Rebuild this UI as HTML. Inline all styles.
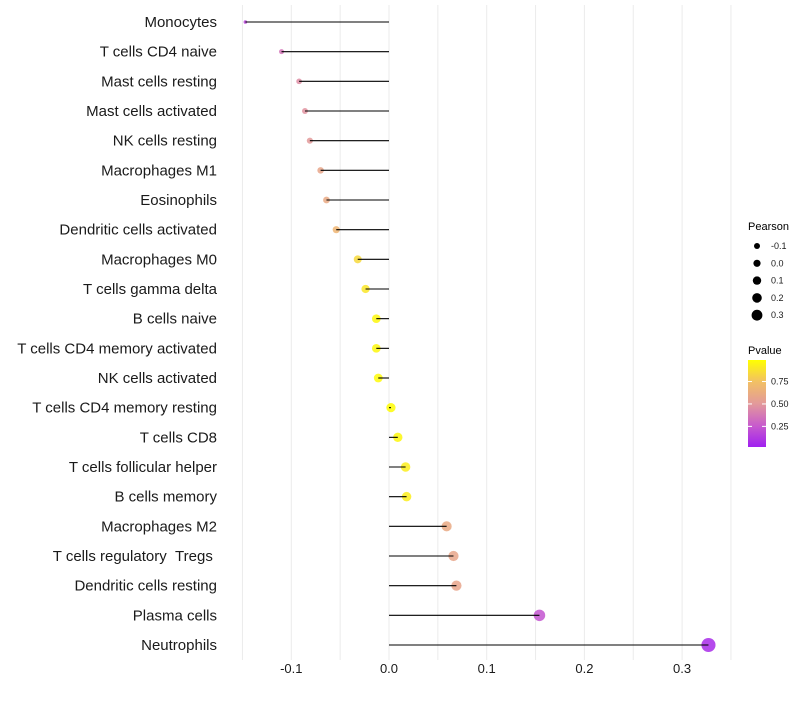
<!DOCTYPE html>
<html><head><meta charset="utf-8"><style>
body{margin:0;background:#fff;font-family:"Liberation Sans",sans-serif;}
svg text{font-family:"Liberation Sans",sans-serif;}
</style></head><body>
<svg id="chart" width="800" height="700"></svg>
<script>
const categories=["Monocytes","T cells CD4 naive","Mast cells resting","Mast cells activated","NK cells resting","Macrophages M1","Eosinophils","Dendritic cells activated","Macrophages M0","T cells gamma delta","B cells naive","T cells CD4 memory activated","NK cells activated","T cells CD4 memory resting","T cells CD8","T cells follicular helper","B cells memory","Macrophages M2","T cells regulatory \u00a0Tregs\u00a0","Dendritic cells resting","Plasma cells","Neutrophils"];
const pearson=[-0.147,-0.110,-0.092,-0.086,-0.081,-0.070,-0.064,-0.054,-0.032,-0.024,-0.013,-0.013,-0.011,0.002,0.009,0.017,0.018,0.059,0.066,0.069,0.154,0.327];
const pvalue=[0.15,0.35,0.45,0.47,0.5,0.58,0.6,0.68,0.85,0.9,0.97,0.97,0.98,0.99,0.97,0.93,0.93,0.6,0.58,0.57,0.22,0.05];
const xTicks=[-0.1,0,0.1,0.2,0.3];
const xTickLabels=["-0.1","0.0","0.1","0.2","0.3"];
const sizeLegend=[-0.1,0,0.1,0.2,0.3];
const colorTicks=[0.25,0.5,0.75];

const NS="http://www.w3.org/2000/svg";
const svg=document.getElementById('chart');
function mk(t,a,p){const e=document.createElementNS(NS,t);for(const k in a)e.setAttribute(k,a[k]);(p||svg).appendChild(e);return e;}
const x=v=>389+v*977;
const y=i=>22+i*(623/21);
const rad=v=>v<0?Math.max(1.5,4.6+19*v):4.6+7.5*v;
const legRad=v=>3.6+6*v;
const stops=[[0,[160,32,240]],[0.25,[200,92,204]],[0.5,[227,154,154]],[0.75,[242,192,100]],[1,[255,255,0]]];
function col(p){for(let i=1;i<stops.length;i++){if(p<=stops[i][0]){const a=stops[i-1],b=stops[i];const t=(p-a[0])/(b[0]-a[0]);const c=a[1].map((v,j)=>Math.round(v+(b[1][j]-v)*t));return `rgb(${c})`;}}return 'rgb(255,255,0)';}

const grid=mk('g',{});


[-0.15,-0.1,-0.05,0,0.05,0.1,0.15,0.2,0.25,0.3,0.35].forEach(v=>{
  const l=mk('line',{x1:x(v),x2:x(v),y1:5,y2:660,stroke:'#ebebeb','stroke-width':1},grid);
  
  
});
categories.forEach((c,i)=>{
  const t=mk('text',{x:217,y:y(i)+5,'text-anchor':'end','font-size':15,fill:'#1a1a1a'});
  t.textContent=c;
  
  
  const d=mk('circle',{cx:x(pearson[i]),cy:y(i),r:rad(pearson[i]),fill:col(pvalue[i]),'fill-opacity':0.85});
  
  
  const l=mk('line',{x1:x(0),x2:x(pearson[i]),y1:y(i),y2:y(i),stroke:'#000','stroke-width':1.1});
  
  
});
xTicks.forEach((v,i)=>{
  const t=mk('text',{x:x(v),y:673,'text-anchor':'middle','font-size':13,fill:'#1a1a1a'});
  t.textContent=xTickLabels[i];
  
  
});
const lt=mk('text',{x:748,y:230,'font-size':11,fill:'#000'});lt.textContent='Pearson';


sizeLegend.forEach((v,i)=>{
  const cy=246+i*17.3;
  const c=mk('circle',{cx:757,cy:cy,r:legRad(v),fill:'#000'});
  
  
  const t=mk('text',{x:771,y:cy+3,'font-size':9,fill:'#1a1a1a'});t.textContent=sizeLegend[i].toFixed(1);
  
  
});
const ct=mk('text',{x:748,y:354,'font-size':11,fill:'#000'});ct.textContent='Pvalue';


const defs=mk('defs',{});
const lg=mk('linearGradient',{id:'pg',x1:0,y1:1,x2:0,y2:0},defs);
stops.forEach(s=>mk('stop',{offset:s[0],'stop-color':`rgb(${s[1]})`},lg));
const cb=mk('rect',{x:748,y:360,width:18,height:87,fill:'url(#pg)'});


const cy0=v=>447-(v-0.02)/(0.99-0.02)*87;
colorTicks.forEach(v=>{
  mk('line',{x1:748,x2:752,y1:cy0(v),y2:cy0(v),stroke:'#fff'});
  mk('line',{x1:762,x2:766,y1:cy0(v),y2:cy0(v),stroke:'#fff'});
  const t=mk('text',{x:771,y:cy0(v)+3,'font-size':9,fill:'#1a1a1a'});t.textContent=v.toFixed(2);
  
  
});
</script>
</body></html>
